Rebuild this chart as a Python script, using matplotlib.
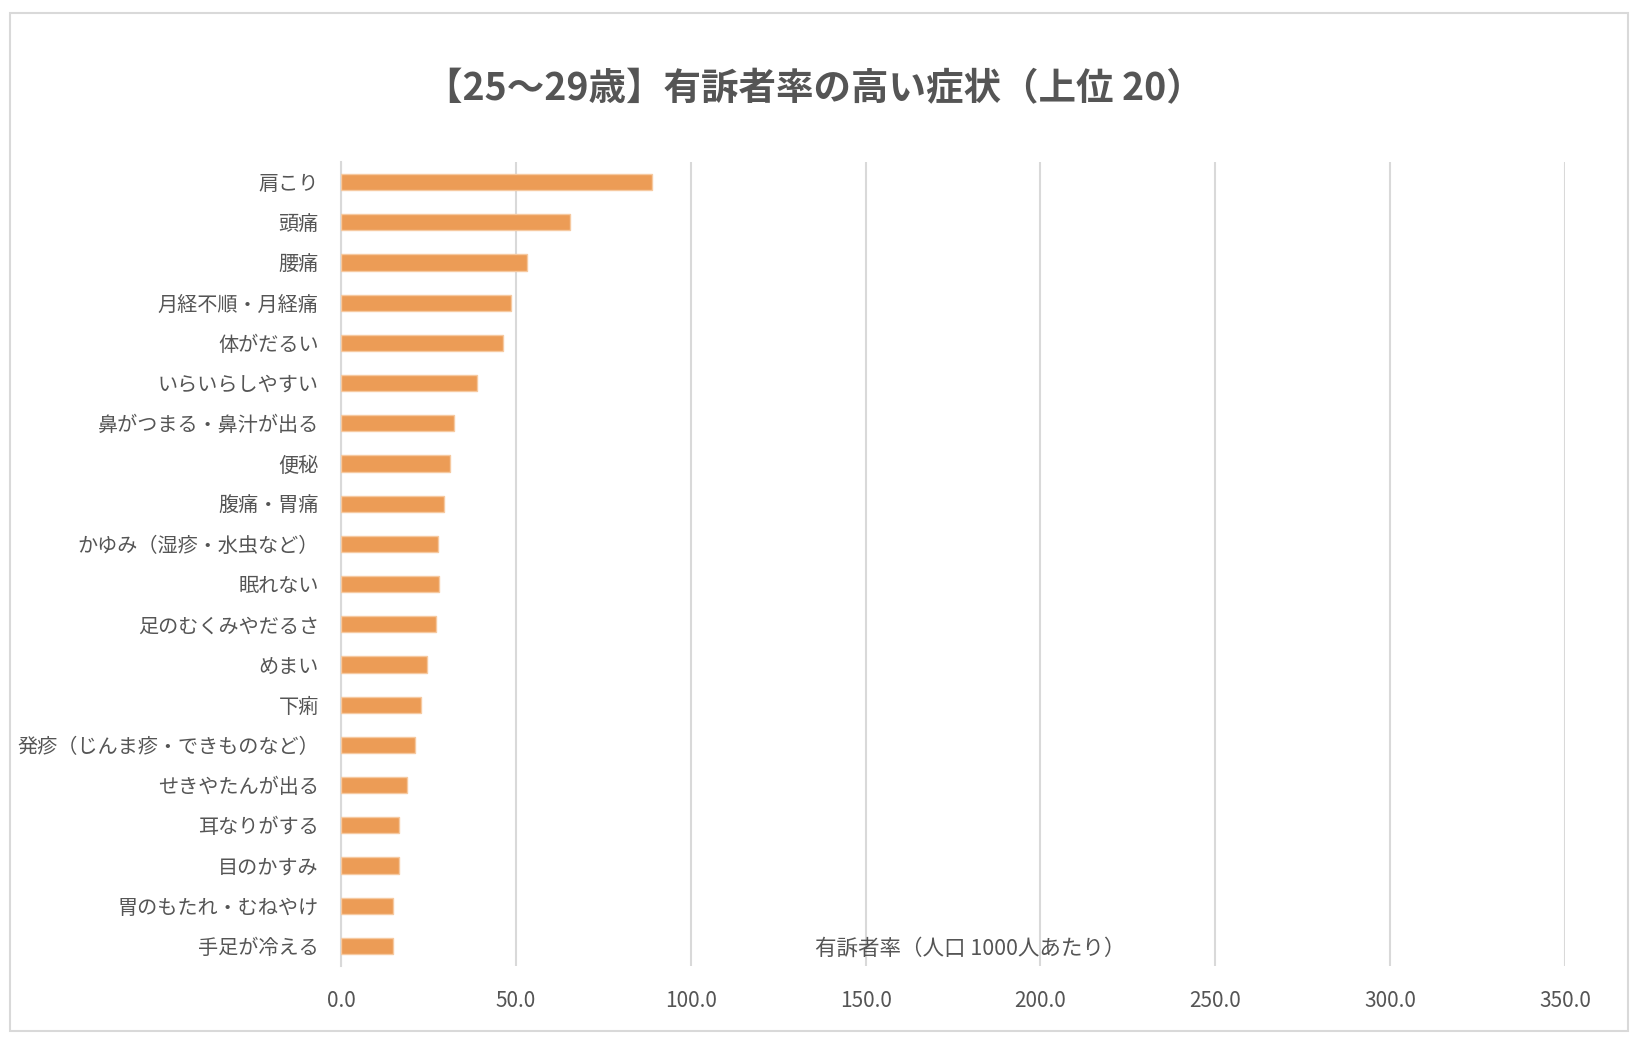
# Importando las librerías necesarias
import matplotlib.pyplot as plt
from matplotlib.patches import Rectangle

# Fuente con glifos japoneses
plt.rcParams['font.family'] = ['Noto Sans CJK JP', 'DejaVu Sans']

# Datos del gráfico (de mayor a menor)
sintomas = ["肩こり", "頭痛", "腰痛", "月経不順・月経痛", "体がだるい",
            "いらいらしやすい", "鼻がつまる・鼻汁が出る", "便秘", "腹痛・胃痛",
            "かゆみ（湿疹・水虫など）", "眠れない", "足のむくみやだるさ", "めまい",
            "下痢", "発疹（じんま疹・できものなど）", "せきやたんが出る",
            "耳なりがする", "目のかすみ", "胃のもたれ・むねやけ", "手足が冷える"]
tasas = [89.0, 65.5, 53.1, 48.6, 46.4, 39.0, 32.3, 31.2, 29.5, 27.8,
         27.9, 27.3, 24.5, 22.8, 21.1, 18.9, 16.6, 16.6, 15.0, 15.0]
ticks_x = [0, 50, 100, 150, 200, 250, 300, 350]

titulo = "【25～29歳】有訴者率の高い症状（上位 20）"
etiqueta_x = "有訴者率（人口 1000人あたり）"

gris_texto = "#555555"
gris_linea = "#D9D9D9"
naranja = "#EC9C56"

# Creando la figura
fig = plt.figure(figsize=(16.38, 10.5), dpi=100)
ax = fig.add_axes([0.2082, 0.08, 0.7472, 0.7657])

# Barras horizontales
pos = list(range(len(sintomas)))
ax.barh(pos, tasas, height=0.4, color=naranja, edgecolor="#F6C9A0",
        linewidth=1.0, zorder=3)

ax.set_ylim(len(sintomas) - 0.5, -0.5)
ax.set_xlim(0, 350)
ax.set_yticks(pos)
ax.set_yticklabels(sintomas)
ax.set_xticks(ticks_x)
ax.set_xticklabels(["{0:.1f}".format(v) for v in ticks_x])

ax.tick_params(axis='y', length=0, pad=16, labelsize=14.5, labelcolor=gris_texto)
ax.tick_params(axis='x', length=0, pad=17, labelsize=15, labelcolor=gris_texto)

# Rejilla vertical y ejes
ax.grid(axis='x', color=gris_linea, linewidth=1.5, zorder=0)
ax.grid(axis='y', visible=False)
for lado in ['top', 'right', 'bottom']:
    ax.spines[lado].set_visible(False)
ax.spines['left'].set_color(gris_linea)
ax.spines['left'].set_linewidth(1.5)

# Título y etiqueta del eje
fig.text(0.497, 1 - 89 / 1050, titulo, ha='center', va='center',
         fontsize=27, fontweight='bold', color=gris_texto)
fig.text(970 / 1638, 1 - 949 / 1050, etiqueta_x, ha='center', va='center',
         fontsize=15.5, color=gris_texto)

# Borde del área del gráfico
borde = Rectangle((10 / 1638, 1 - 1031 / 1050), 1618 / 1638, 1018 / 1050,
                  transform=fig.transFigure, fill=False,
                  edgecolor=gris_linea, linewidth=1.5)
fig.patches.append(borde)

fig.savefig("out.png", dpi=100, facecolor="white")
